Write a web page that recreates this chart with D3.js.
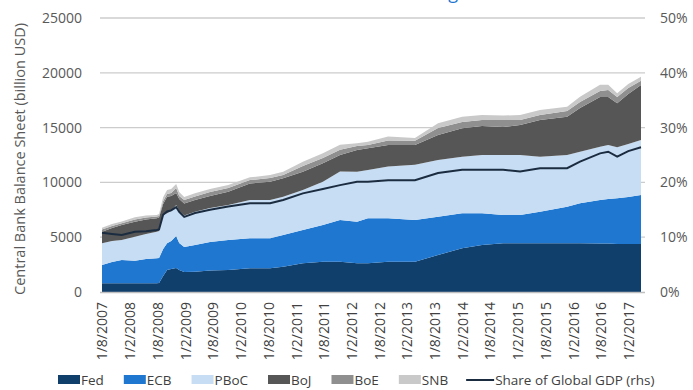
<!DOCTYPE html>
<html>
<head>
<meta charset="utf-8">
<script src="https://cdn.jsdelivr.net/npm/d3@7"></script>
<style>
  html, body { margin: 0; padding: 0; background: #fff; }
  svg { display: block; font-family: "Open Sans", sans-serif; }
</style>
</head>
<body>
<svg id="chart" width="693" height="390"></svg>
<script>
// ---- data (billion USD, share in %) ----
const dates = ["2007-08-01","2007-10-06","2007-12-09","2008-03-05","2008-05-17","2008-07-27","2008-08-11","2008-09-07","2008-10-03","2008-10-30","2008-12-02","2008-12-22","2009-01-24","2009-04-05","2009-07-13","2009-11-10","2010-04-02","2010-08-13","2010-11-07","2011-03-17","2011-07-27","2011-11-17","2012-03-08","2012-05-19","2012-09-29","2013-03-25","2013-08-24","2014-01-30","2014-06-10","2014-10-27","2015-02-16","2015-06-27","2015-12-23","2016-03-17","2016-07-27","2016-09-19","2016-11-17","2017-01-29","2017-04-23"];
const fed  = [790,790,790,790,790,790,820,1460,2010,2100,2190,2010,1830,1850,1960,2010,2160,2160,2310,2620,2770,2770,2620,2620,2770,2770,3380,3990,4290,4440,4440,4440,4440,4440,4430,4430,4380,4380,4380];
const ecb  = [1670,1940,2130,2060,2220,2280,2280,2460,2440,2560,2920,2460,2280,2440,2600,2740,2740,2740,2890,3040,3350,3810,3800,4110,3960,3810,3490,3190,2890,2580,2580,2880,3340,3650,3970,4060,4170,4290,4470];
const pboc = [1980,1920,1830,2190,2280,2430,2460,3100,2740,2740,2830,2920,2870,3040,3100,3190,3490,3490,3490,3650,3950,4410,4560,4410,4710,5020,5170,5160,5320,5470,5470,5020,4720,4710,4860,4930,4650,4840,5020];
const boj  = [1060,1190,1370,1370,1320,1220,1230,1000,1490,1370,1100,1100,1100,1070,1100,1210,1520,1670,1680,1670,1680,1520,1980,1980,1980,1820,2280,2590,2650,2560,2740,3350,3490,3990,4540,4380,4020,4560,5020];
const boe  = [200,180,160,200,180,160,140,270,270,270,460,270,320,320,370,340,300,340,300,520,480,460,370,300,410,370,640,570,550,640,460,460,520,550,550,640,570,550,390];
const snb  = [160,180,150,200,180,140,180,360,360,360,360,360,270,290,270,270,250,270,300,390,430,460,250,300,350,250,430,480,460,410,460,460,390,480,550,460,340,360,360];
const shareGDP = [10.8,10.6,10.4,11.0,11.1,11.3,11.4,14.1,14.7,14.9,15.5,14.6,13.7,14.4,15.0,15.6,16.2,16.2,16.8,18.0,18.8,19.5,20.1,20.1,20.4,20.4,21.7,22.3,22.3,22.3,22.0,22.6,22.6,23.8,25.3,25.6,24.7,25.7,26.4];

const seriesNames = ["Fed","ECB","PBoC","BoJ","BoE","SNB"];
const seriesColors = ["#113f6c","#1f77d0","#c6ddf3","#565656","#8f8f8f","#c9c9c9"];
const lineName = "Share of Global GDP (rhs)";
const xTickLabels = ["1/8/2007","1/2/2008","1/8/2008","1/2/2009","1/8/2009","1/2/2010","1/8/2010","1/2/2011","1/8/2011","1/2/2012","1/8/2012","1/2/2013","1/8/2013","1/2/2014","1/8/2014","1/2/2015","1/8/2015","1/2/2016","1/8/2016","1/2/2017"];
const yLeftTicks = [0,5000,10000,15000,20000,25000];
const yRightTicks = [0,10,20,30,40,50];
const yTitle = "Central Bank Balance Sheet (billion USD)";
const chartTitle = "Central Bank Balance Sheets Are Rising";

// ---- build table ----
const parseISO = d3.timeParse("%Y-%m-%d");
const parseDM = d3.timeParse("%d/%m/%Y");
const cols = [fed, ecb, pboc, boj, boe, snb];
const table = dates.map((d, i) => {
  const row = { date: parseISO(d), share: shareGDP[i] };
  seriesNames.forEach((n, k) => row[n] = cols[k][i]);
  return row;
});

const svg = d3.select("#chart");
const plotL = 100, plotR = 645, dataL = 102, dataR = 641, plotT = 18, plotB = 292;

const x = d3.scaleTime()
  .domain(d3.extent(table, d => d.date))
  .range([dataL, dataR]);
const y = d3.scaleLinear().domain([0, 25000]).range([plotB, plotT]);
const yR = d3.scaleLinear().domain([0, 50]).range([plotB, plotT]);

// title (mostly above the top edge, as in the reference)
svg.append("text")
  .attr("x", 458).attr("y", -1)
  .attr("text-anchor", "end")
  .attr("font-size", 18)
  .attr("fill", "#1f77d0")
  .text(chartTitle);

// gridlines
svg.append("g").selectAll("line")
  .data(yLeftTicks.filter(t => t > 0))
  .join("line")
  .attr("x1", plotL).attr("x2", plotR)
  .attr("y1", d => y(d)).attr("y2", d => y(d))
  .attr("stroke", "#cccccc").attr("stroke-width", 1.3);

// left axis labels
const gl = svg.append("g")
  .attr("transform", `translate(${plotL - 18},0)`)
  .call(d3.axisLeft(y).tickValues(yLeftTicks).tickSize(0).tickPadding(0).tickFormat(d3.format("d")));
gl.select(".domain").remove();
gl.selectAll("text").attr("font-size", 14).attr("fill", "#595959").attr("font-family", "Open Sans");

// right axis labels
const gr = svg.append("g")
  .attr("transform", `translate(${plotR + 15},0)`)
  .call(d3.axisRight(yR).tickValues(yRightTicks).tickSize(0).tickPadding(0).tickFormat(d => d + "%"));
gr.select(".domain").remove();
gr.selectAll("text").attr("font-size", 14).attr("fill", "#595959").attr("font-family", "Open Sans");

// y title
svg.append("text")
  .attr("transform", `translate(25,${(plotT + plotB) / 2 + 4}) rotate(-90)`)
  .attr("text-anchor", "middle")
  .attr("font-size", 14.5)
  .attr("fill", "#595959")
  .text(yTitle);

// stacked areas
const stack = d3.stack().keys(seriesNames);
const layers = stack(table);
const area = d3.area()
  .x(d => x(d.data.date))
  .y0(d => y(d[0]))
  .y1(d => y(d[1]));
svg.append("g").selectAll("path")
  .data(layers)
  .join("path")
  .attr("d", area)
  .attr("fill", (d, i) => seriesColors[i]);

// bottom axis line
svg.append("line")
  .attr("x1", plotL).attr("x2", plotR)
  .attr("y1", plotB + 0.5).attr("y2", plotB + 0.5)
  .attr("stroke", "#bfbfbf").attr("stroke-width", 1.3);

// share line
const line = d3.line()
  .x(d => x(d.date))
  .y(d => yR(d.share));
svg.append("path")
  .datum(table)
  .attr("d", line)
  .attr("fill", "none")
  .attr("stroke", "#1b2c40")
  .attr("stroke-width", 2);

// x axis labels
const gx = svg.append("g")
  .attr("transform", `translate(0,${plotB + 10})`)
  .call(d3.axisBottom(x).tickValues(xTickLabels.map(parseDM)).tickSize(0).tickPadding(0)
    .tickFormat((d, i) => xTickLabels[i]));
gx.select(".domain").remove();
gx.selectAll("text")
  .attr("font-size", 14).attr("fill", "#404040").attr("font-family", "Open Sans")
  .attr("transform", "rotate(-90)")
  .attr("text-anchor", "end")
  .attr("dy", "0.35em")
  .attr("x", 0).attr("y", 0);

// legend
const legend = svg.append("g").attr("transform", "translate(0,380)");
let lx = 58;
seriesNames.forEach((n, i) => {
  legend.append("rect").attr("x", lx).attr("y", -5).attr("width", 22).attr("height", 9)
    .attr("fill", seriesColors[i]);
  const t = legend.append("text").attr("x", lx + 23).attr("y", 5)
    .attr("font-size", 13.5).attr("fill", "#404040").text(n);
  lx += 23 + t.node().getComputedTextLength() + 20;
});
legend.append("line").attr("x1", lx - 2).attr("x2", lx + 26).attr("y1", 0).attr("y2", 0)
  .attr("stroke", "#1b2c40").attr("stroke-width", 2);
legend.append("text").attr("x", lx + 27).attr("y", 5)
  .attr("font-size", 13.5).attr("fill", "#404040").text(lineName);
</script>
</body>
</html>
